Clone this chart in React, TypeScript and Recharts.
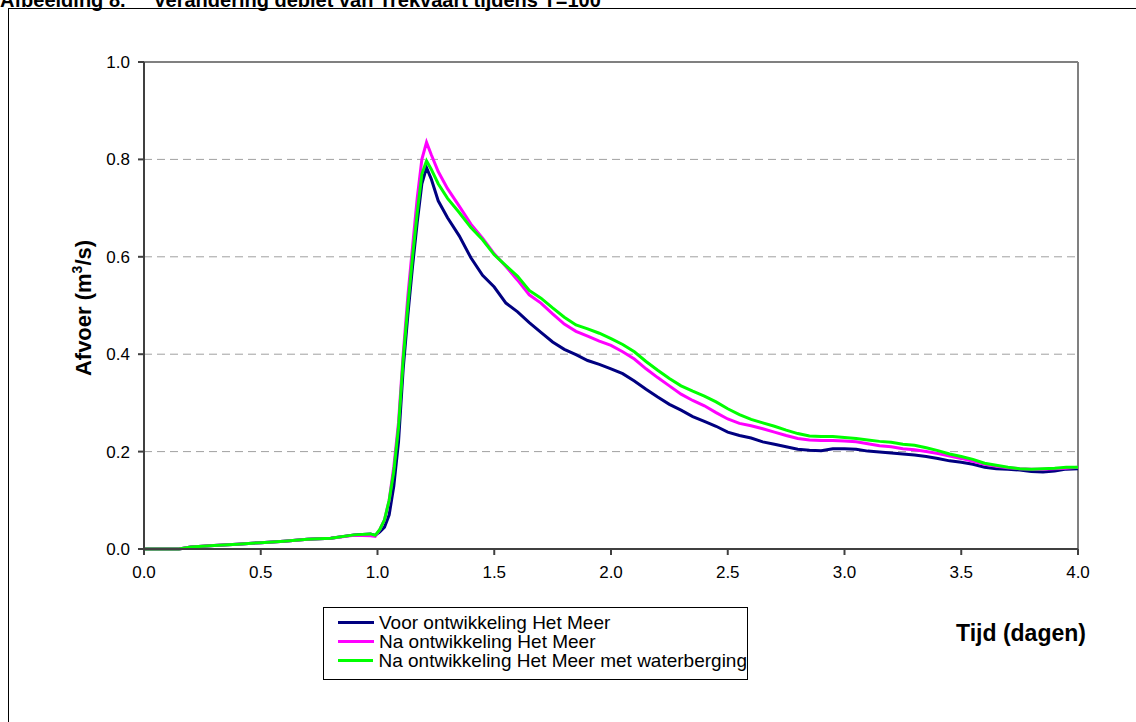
import React from "react"
import {
  LineChart,
  Line,
  XAxis,
  YAxis,
  CartesianGrid,
  ReferenceLine,
  Legend,
  Label,
} from "recharts"

// tijd in dagen
const TIME = [
  0, 0.15, 0.2, 0.3, 0.4, 0.5, 0.6, 0.7, 0.8, 0.9, 0.97, 0.99, 1.01, 1.03, 1.05,
  1.07, 1.09, 1.11, 1.13, 1.15, 1.17, 1.19, 1.21, 1.23, 1.26, 1.3, 1.35, 1.4,
  1.45, 1.5, 1.55, 1.6, 1.65, 1.7, 1.75, 1.8, 1.85, 1.9, 1.95, 2.0, 2.05, 2.1,
  2.15, 2.2, 2.25, 2.3, 2.35, 2.4, 2.45, 2.5, 2.55, 2.6, 2.65, 2.7, 2.75, 2.8,
  2.85, 2.9, 2.95, 3.0, 3.05, 3.1, 3.15, 3.2, 3.25, 3.3, 3.35, 3.4, 3.45, 3.5,
  3.55, 3.6, 3.65, 3.7, 3.75, 3.8, 3.85, 3.9, 3.95, 4.0,
]

// afvoer (m3/s)
const VOOR = [
  0, 0, 0.004, 0.007, 0.01, 0.013, 0.016, 0.02, 0.022, 0.029, 0.031, 0.028,
  0.035, 0.045, 0.07, 0.13, 0.22, 0.37, 0.48, 0.58, 0.67, 0.75, 0.783, 0.76,
  0.715, 0.68, 0.643, 0.598, 0.562, 0.538, 0.505, 0.487, 0.465, 0.445, 0.425,
  0.41, 0.399, 0.387, 0.379, 0.37, 0.36, 0.345, 0.328, 0.312, 0.297, 0.285,
  0.272, 0.262, 0.252, 0.24, 0.233, 0.228, 0.22, 0.215, 0.21, 0.205, 0.203,
  0.202, 0.206, 0.206, 0.205, 0.201, 0.199, 0.197, 0.195, 0.193, 0.19, 0.186,
  0.181, 0.178, 0.174, 0.168, 0.165, 0.164, 0.162, 0.159, 0.158, 0.16, 0.164,
  0.165,
]

const NA = [
  0, 0, 0.004, 0.007, 0.01, 0.013, 0.016, 0.02, 0.022, 0.028, 0.027, 0.026,
  0.04, 0.06, 0.1, 0.17, 0.26, 0.4, 0.52, 0.62, 0.72, 0.8, 0.835, 0.81, 0.775,
  0.74, 0.704, 0.667, 0.638, 0.606, 0.58, 0.552, 0.522, 0.505, 0.483, 0.462,
  0.447, 0.437, 0.427, 0.418, 0.405, 0.39, 0.37, 0.352, 0.335, 0.318, 0.305,
  0.294, 0.28, 0.267, 0.258, 0.253, 0.247, 0.24, 0.233, 0.227, 0.224, 0.223,
  0.223, 0.222, 0.22, 0.216, 0.212, 0.21, 0.206, 0.204, 0.2, 0.196, 0.191,
  0.186, 0.18, 0.174, 0.17, 0.167, 0.165, 0.164, 0.164, 0.165, 0.166, 0.168,
]

const NA_WB = [
  0, 0, 0.004, 0.007, 0.01, 0.013, 0.016, 0.02, 0.022, 0.029, 0.031, 0.028,
  0.04, 0.06, 0.1, 0.16, 0.25, 0.39, 0.5, 0.6, 0.69, 0.77, 0.797, 0.78, 0.75,
  0.72, 0.691, 0.66, 0.635, 0.604, 0.582, 0.56, 0.531, 0.515, 0.495, 0.476,
  0.46, 0.452, 0.443, 0.432, 0.42, 0.405, 0.385, 0.367, 0.35, 0.335, 0.324,
  0.314, 0.302, 0.288, 0.276, 0.266, 0.259, 0.252, 0.244, 0.237, 0.232, 0.231,
  0.231, 0.229, 0.227, 0.224, 0.221, 0.219, 0.215, 0.213, 0.208, 0.202, 0.195,
  0.19, 0.184, 0.176, 0.172, 0.168, 0.165, 0.164, 0.165, 0.166, 0.168, 0.168,
]

const X_TICKS = [0, 0.5, 1, 1.5, 2, 2.5, 3, 3.5, 4]
const Y_TICKS = [0, 0.2, 0.4, 0.6, 0.8, 1.0]

const SERIES = [
  { key: "voor", name: "Voor ontwikkeling Het Meer", color: "#000080" },
  { key: "na", name: "Na ontwikkeling Het Meer", color: "#FF00FF" },
  { key: "naWb", name: "Na ontwikkeling Het Meer met waterberging", color: "#00FF00" },
]

const data = TIME.map((t, i) => ({
  t,
  voor: VOOR[i],
  na: NA[i],
  naWb: NA_WB[i],
}))

const FONT = "Arial, 'Liberation Sans', sans-serif"

function LegendBox() {
  return (
    <div
      style={{
        border: "1px solid #000",
        background: "#fff",
        boxSizing: "border-box",
        width: 425,
        height: 73,
        padding: "5px 0 0 14px",
        fontFamily: FONT,
        fontSize: 19,
        lineHeight: "19px",
        color: "#000",
      }}
    >
      {SERIES.map((s) => (
        <div key={s.key} style={{ display: "flex", alignItems: "center", whiteSpace: "nowrap" }}>
          <span
            style={{
              display: "inline-block",
              width: 36,
              height: 3,
              background: s.color,
              marginRight: 5,
            }}
          />
          {s.name}
        </div>
      ))}
    </div>
  )
}

export default function App() {
  return (
    <div
      style={{
        position: "fixed",
        left: 0,
        top: 0,
        width: 1136,
        height: 722,
        overflow: "hidden",
        background: "#fff",
      }}
    >
      <div
        style={{
          position: "absolute",
          left: 0,
          top: -10,
          fontFamily: FONT,
          fontWeight: "bold",
          fontSize: 20,
          lineHeight: "20px",
          whiteSpace: "pre",
        }}
      >
        {"Afbeelding 8.     Verandering debiet van Trekvaart tijdens T=100"}
      </div>
      <div
        style={{
          position: "absolute",
          left: 8,
          top: 8,
          width: 1200,
          height: 800,
          border: "1px solid #000",
        }}
      />
      <div style={{ position: "absolute", left: 0, top: 0 }}>
        <LineChart
          width={1136}
          height={722}
          data={data}
          margin={{ top: 62, right: 58, bottom: 143, left: 84 }}
        >
          <CartesianGrid
            horizontal
            vertical={false}
            stroke="#a0a0a0"
            strokeDasharray="8 5"
          />
          <ReferenceLine y={1} stroke="#808080" strokeWidth={2} />
          <ReferenceLine x={4} stroke="#808080" strokeWidth={2} />
          <XAxis
            dataKey="t"
            type="number"
            domain={[0, 4]}
            ticks={X_TICKS}
            tickFormatter={(v: number) => v.toFixed(1)}
            height={30}
            stroke="#404040"
            strokeWidth={2}
            tickSize={6}
            tickMargin={11}
            tick={{ fill: "#000", fontSize: 17, fontFamily: FONT }}
          >
            <Label
              content={() => (
                <text
                  x={1021}
                  y={641}
                  textAnchor="middle"
                  fontFamily={FONT}
                  fontWeight="bold"
                  fontSize={23}
                  fill="#000"
                >
                  Tijd (dagen)
                </text>
              )}
            />
          </XAxis>
          <YAxis
            type="number"
            domain={[0, 1]}
            ticks={Y_TICKS}
            tickFormatter={(v: number) => v.toFixed(1)}
            width={60}
            stroke="#404040"
            strokeWidth={2}
            tickSize={6}
            tickMargin={8}
            tick={{ fill: "#000", fontSize: 17, fontFamily: FONT }}
          >
            <Label
              content={() => (
                <text
                  transform="translate(91 308) rotate(-90)"
                  textAnchor="middle"
                  fontFamily={FONT}
                  fontWeight="bold"
                  fontSize={22}
                  fill="#000"
                >
                  Afvoer (m
                  <tspan dy={-9} fontSize={14}>
                    3
                  </tspan>
                  <tspan dy={9}>/s)</tspan>
                </text>
              )}
            />
          </YAxis>
          {SERIES.map((s) => (
            <Line
              key={s.key}
              type="linear"
              dataKey={s.key}
              name={s.name}
              stroke={s.color}
              strokeWidth={3}
              dot={false}
              isAnimationActive={false}
            />
          ))}
          <Legend
            layout="vertical"
            align="center"
            verticalAlign="middle"
            wrapperStyle={{ left: 323, top: 607, width: 425, height: 73 }}
            content={() => <LegendBox />}
          />
        </LineChart>
      </div>
    </div>
  )
}
